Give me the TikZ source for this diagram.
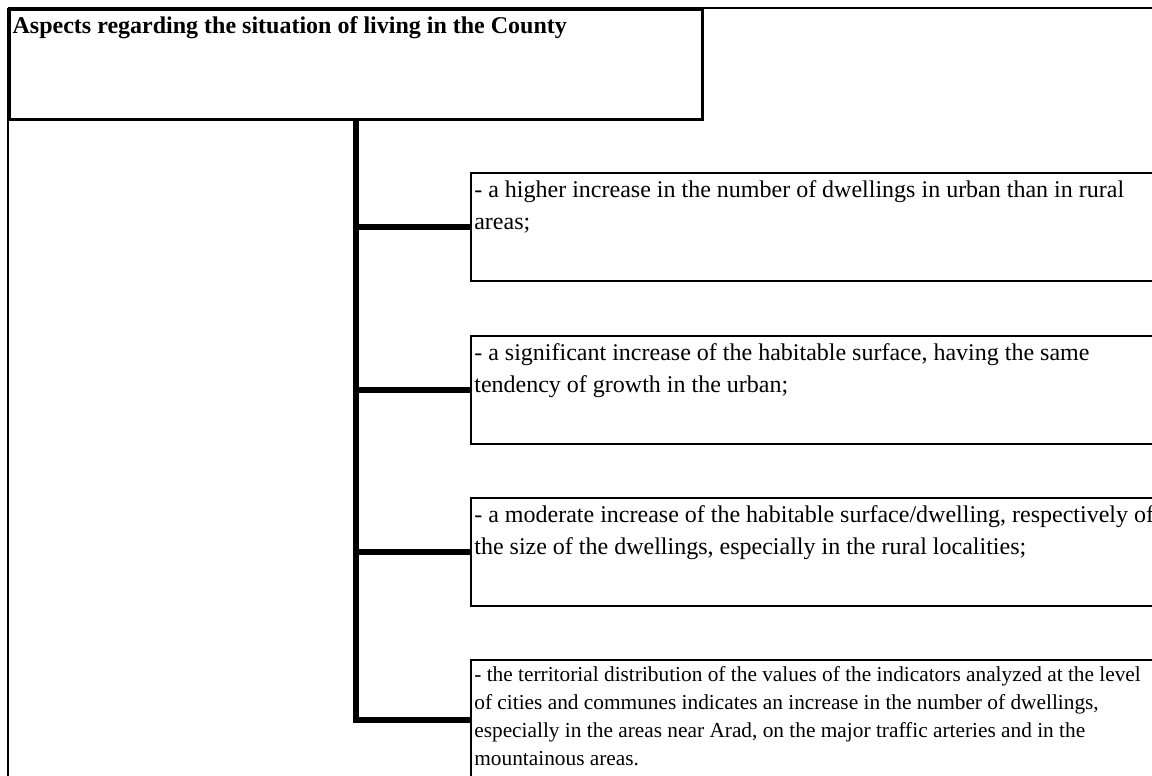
\documentclass[tikz,border=0pt]{standalone}
\usepackage{fontspec}
\setmainfont{Liberation Serif}
\usetikzlibrary{positioning}

\begin{document}
\begin{tikzpicture}[x=0.75pt,y=-0.75pt,
  frame/.style={line width=1.5pt},
  trunk/.style={line width=4pt},
  headbox/.style={draw,line width=2.25pt,anchor=north west,inner xsep=0pt,inner ysep=5pt,
    minimum width=519.75pt,minimum height=82.5pt},
  itembox/.style={draw,line width=1.5pt,anchor=north west,inner xsep=0pt,inner ysep=5pt,
    minimum width=560pt,minimum height=81pt}]

\useasboundingbox (0,0) rectangle (1152,775);
\clip (0,0) rectangle (1152,775);

% heading
\node[headbox] (head) at (8,8)
  {\parbox[t][72pt][t]{515pt}{\fontsize{18}{24}\selectfont\bfseries
   Aspects regarding the situation of living in the County}};

% outer frame
\draw[frame] (head.north west) -- (1160,8);
\draw[frame] (head.north west) -- (8,790);

% the four findings
\node[itembox] (b1) at (470,172)
  {\parbox[t][70pt][t]{555pt}{\raggedright\fontsize{18}{24}\selectfont
   - a higher increase in the number of dwellings in urban than in rural\\
   areas;}};
\node[itembox] (b2) at (470,335)
  {\parbox[t][70pt][t]{555pt}{\raggedright\fontsize{18}{24}\selectfont
   - a significant increase of the habitable surface, having the same\\
   tendency of growth in the urban;}};
\node[itembox] (b3) at (470,497)
  {\parbox[t][70pt][t]{555pt}{\raggedright\fontsize{18}{24}\selectfont
   - a moderate increase of the habitable surface/dwelling, respectively of\\
   the size of the dwellings, especially in the rural localities;}};
\node[itembox,minimum height=90pt,inner ysep=4pt] (b4) at (470,659)
  {\parbox[t][80pt][t]{555pt}{\raggedright\fontsize{16}{21}\selectfont
   - the territorial distribution of the values of the indicators analyzed at the level\\
   of cities and communes indicates an increase in the number of dwellings,\\
   especially in the areas near Arad, on the major traffic arteries and in the\\
   mountainous areas.}};

% tree lines
\draw[trunk] (head.south) |- (b4.west);
\foreach \b in {b1,b2,b3}
  \draw[trunk] (head.south |- \b.west) -- (\b.west);

\end{tikzpicture}
\end{document}
